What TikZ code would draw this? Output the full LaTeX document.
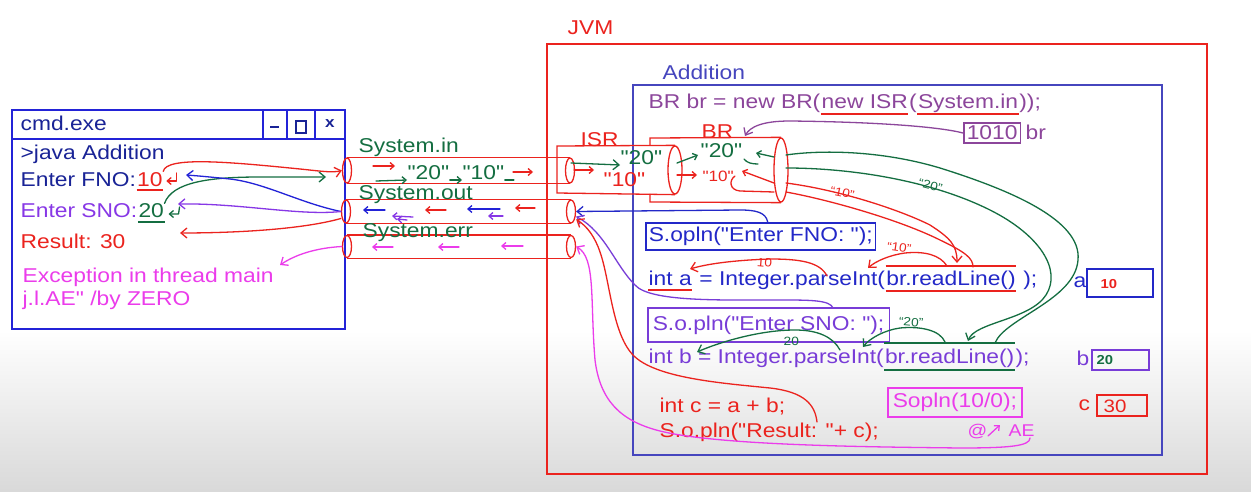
\documentclass[tikz,border=0pt]{standalone}
\usepackage{fontspec}
\setmainfont[FakeStretch=1.14,Ligatures=TeXOff]{Liberation Sans}
\usetikzlibrary{arrows.meta,shapes.geometric}
\definecolor{navy}{RGB}{25,35,150}
\definecolor{fblue}{RGB}{35,35,215}
\definecolor{jred}{RGB}{235,35,30}
\definecolor{vio}{RGB}{135,55,230}
\definecolor{dgreen}{RGB}{20,110,65}
\definecolor{mag}{RGB}{235,60,235}
\definecolor{mauve}{RGB}{140,70,155}
\definecolor{addblue}{RGB}{70,70,190}
\definecolor{codeblue}{RGB}{35,40,200}
\definecolor{codevio}{RGB}{120,60,215}
\newcommand\fs{\fontsize{20}{24}\selectfont}
\newcommand\fsm{\fontsize{12}{14}\selectfont}
\begin{document}
\begin{tikzpicture}[x=1pt,y=-1pt,line width=1.3pt,
 txt/.style={anchor=base west,inner sep=0pt,font=\fs},
 small/.style={anchor=base west,inner sep=0pt,font=\fsm},
 pend/.style={ellipse,draw=jred,line width=1.3pt,inner sep=0pt,minimum width=9pt,minimum height=#1},
 arr/.style={-{Straight Barb[length=6pt,width=10pt]}},
 arrs/.style={-{Straight Barb[length=4pt,width=7pt]}},
 hand/.style={line width=1.3pt,line cap=round,line join=round},
 codebox/.style={draw=#1,text=#1,font=\fs,line width=1.5pt,inner xsep=3pt,inner ysep=0pt,anchor=west}
]
\useasboundingbox (0,0) rectangle (1251,492);
\fill[white] (0,0) rectangle (1251,492);
\shade[top color=white,bottom color=black!15] (0,330) rectangle (1251,492);

% ---------- cmd window ----------
\draw[fblue,line width=1.6pt] (12,110) rectangle (345,329);
\draw[fblue,line width=1.6pt] (12,139) -- (345,139) (263,110) -- (263,139) (287,110) -- (287,139) (315,110) -- (315,139);
\draw[navy,line width=2pt] (270,127) -- (279,127);
\draw[navy,line width=1.8pt] (296,121) rectangle (306,133);
\node[text=navy,font=\bfseries\fontsize{15}{15}\selectfont] (closex) at (330,124) {x};
\node[txt,text=navy] (cmdt) at (20,131) {cmd.exe};
\node[txt,text=navy] (java) at (20,160) {>java Addition};
\node[txt,text=navy] (fno) at (20,186) {Enter FNO:};
\node[txt,text=jred] (n10) at (fno.base east) {10};
\draw[jred] ([yshift=-4pt]n10.base west) -- ([yshift=-4pt]n10.base east);
\draw[jred,hand,arrs] ([xshift=13pt,yshift=13pt]n10.base east) -- ([xshift=13pt,yshift=5pt]n10.base east) -- ([xshift=3pt,yshift=5pt]n10.base east);
\node[txt,text=vio] (sno) at (20,218) {Enter SNO:};
\node[txt,text=dgreen] (n20) at (sno.base east) {20};
\draw[dgreen] ([yshift=-4pt]n20.base west) -- ([yshift=-4pt]n20.base east);
\draw[dgreen,hand,arrs] ([xshift=15pt,yshift=11pt]n20.base east) -- ([xshift=14pt,yshift=4pt]n20.base east) -- ([xshift=4pt,yshift=4pt]n20.base east);
\node[txt,text=jred] (res) at (20,248) {Result: 30};
\node[txt,text=mag] (exc1) at (22,282) {Exception in thread main};
\node[txt,text=mag] (exc2) at (22,305) {j.l.AE" /by ZERO};

% ---------- streams ----------
\node[pend=25pt] (inL) at (347,170.5) {};
\node[pend=25pt] (inR) at (570,170.5) {};
\draw[jred] (inL.north) -- (inR.north) (inL.south) -- (inR.south);
\node[pend=23pt] (outL) at (346,211.5) {};
\node[pend=23pt] (outR) at (571,211.5) {};
\draw[jred] (outL.north) -- (outR.north) (outL.south) -- (outR.south);
\node[pend=22pt] (errL) at (347,246.5) {};
\node[pend=22pt] (errR) at (571,246.5) {};
\draw[jred] (errL.north) -- (errR.north) (errL.south) -- (errR.south);
\node[txt,text=dgreen] (lin) at (358,153) {System.in};
\node[txt,text=dgreen] (lout) at (358,200) {System.out};
\node[txt,text=dgreen] (lerr) at (362,237) {System.err};
% System.in contents
\node[txt,text=dgreen] (in20) at (407,180) {"20"};
\node[txt,text=dgreen] (in10) at (462,180) {"10"};
\draw[jred,hand,arrs] (373,166) -- (395,166);
\draw[dgreen,hand,arrs] (376,181) -- (in20.base west);
\draw[dgreen,hand,arrs] (in20.base east) -- (in10.base west);
\draw[dgreen,hand] (in10.base east) -- ++(9,0);
\draw[jred,hand,arrs] (513,172) -- (533,172);
% System.out contents
\draw[fblue,hand,arrs] (385,210) -- (363,210);
\draw[vio,hand,arrs] (413,217) -- (392,216);
\draw[vio,hand,arrs] (407,220) -- (397,219);
\draw[jred,hand,arrs] (446,210) -- (425,210);
\draw[fblue,hand,arrs] (500,209) -- (467,209);
\draw[vio,hand,arrs] (503,216) -- (488,216);
\draw[jred,hand,arrs] (535,208) -- (515,208);
% System.err contents
\draw[mag,hand,arrs] (393,247) -- (372,247);
\draw[mag,hand,arrs] (459,247) -- (438,247);
\draw[mag,hand,arrs] (523,246) -- (501,246);

% ---------- JVM / Addition ----------
\draw[jred,line width=1.6pt] (547,44) rectangle (1207,474);
\node[txt,text=jred] (jvm) at (567,35) {JVM};
\draw[addblue,line width=1.6pt] (633,85) rectangle (1162,455);
\node[txt,text=addblue] (addl) at (662,80) {Addition};

% ISR and BR
\node[pend=48pt,minimum width=14pt] (isrR) at (675,170) {};
\draw[jred] (isrR.north) -- (557,146) -- (557,193) -- (isrR.south);
\node[txt,text=jred] (isrl) at (580,147) {ISR};
\node[pend=64pt,minimum width=14pt] (brR) at (781,170) {};
\draw[jred] (650,146) -- (650,138) -- (brR.north) (650,194) -- (650,202) -- (brR.south);
\node[txt,text=jred] (brl) at (701,139) {BR};
\node[txt,text=dgreen] (isr20) at (620,165) {"20"};
\node[txt,text=jred] (isr10) at (603,186) {"10"};
\draw[dgreen,hand,arr] (571,163) -- (isr20.base west);
\draw[jred,hand,arrs] (574,170) -- (594,170);
\node[txt,text=dgreen] (br20) at (700,158) {"20"};
\node[txt,text=jred,font=\fontsize{15}{16}\selectfont] (br10) at (702,182) {"10"};
\draw[dgreen,hand,arrs] (677,163) -- (698,155);
\draw[jred,hand,arrs] (677,175) -- (697,175);
\draw[dgreen,hand,arrs] (774,157) -- (756,153);
\draw[dgreen,hand] (744,159) .. controls (747,163) and (752,164) .. (758,164);
\draw[jred,hand,arrs] (774,183) -- (742,171);
\draw[jred,hand] (735,176) .. controls (729,180) and (729,190) .. (740,191) -- (774,192);

% code
\node[txt,text=mauve] (brdecl) at (648,109) {BR br = new BR(};
\node[txt,text=mauve] (newisr) at (brdecl.base east) {new ISR};
\node[txt,text=mauve] (paren1) at (newisr.base east) {(};
\node[txt,text=mauve] (sysin) at (paren1.base east) {System.in};
\node[txt,text=mauve] (paren2) at (sysin.base east) {));};
\draw[jred] ([yshift=-5pt]newisr.base west) -- ([yshift=-5pt]newisr.base east);
\draw[jred] ([yshift=-5pt]sysin.base west) -- ([yshift=-5pt]sysin.base east);
\node[codebox=mauve,minimum height=20pt] (b1010) at (963,133) {1010};
\node[txt,text=mauve] (brv) at (1025,140) {br};

\node[codebox=codeblue,minimum height=27pt] (fnobox) at (645,236.5) {S.opln("Enter FNO: ");};
\node[txt,text=codeblue] (inta) at (648,285) {int a};
\node[txt,text=codeblue] (parsea) at (inta.base east) {\ = Integer.parseInt(\ };
\node[txt,text=codeblue] (rla) at (parsea.base east) {br.readLine()};
\node[txt,text=codeblue] (enda) at (rla.base east) {\ );};
\draw[jred] ([yshift=-5pt]inta.base west) -- ([yshift=-5pt]inta.base east);
\draw[jred] ([yshift=-6pt]rla.base west) -- ([yshift=-6pt]rla.base east);
\draw[jred] ([yshift=19pt]rla.base west) -- ([yshift=19pt]rla.base east);

\node[codebox=codevio,minimum height=34pt,inner xsep=5pt] (snobox) at (647,325) {S.o.pln("Enter SNO: ");};
\node[txt,text=codevio] (intb) at (648,363) {int b = Integer.parseInt(};
\node[txt,text=codevio] (rlb) at (intb.base east) {br.readLine()};
\node[txt,text=codevio] (endb) at (rlb.base east) {);};
\draw[dgreen] ([yshift=-7pt]rlb.base west) -- ([yshift=-7pt]rlb.base east);
\draw[dgreen] ([yshift=20pt]rlb.base west) -- ([yshift=20pt]rlb.base east);

\node[txt,text=jred] (intc) at (659,412) {int c = a + b;};
\node[txt,text=jred] (resl) at (659,437) {S.o.pln("Result: "+ c);};
\node[codebox=mag,minimum height=29pt,inner xsep=5pt] (sbox) at (887,402.5) {Sopln(10/0);};
\node[txt,text=mag,font=\fontsize{17}{18}\selectfont] (at) at (967,436) {@};
\node[txt,text=mag,font=\fontsize{17}{18}\selectfont] (ae) at (1008,436) {AE};
\draw[mag,hand,arrs] (at.base east) -- ++(12,-11);

% variables
\node[txt,text=codeblue] (va) at (1073,287) {a};
\node[draw=codeblue,line width=1.5pt,minimum width=66pt,minimum height=28pt,anchor=north west,inner sep=0pt] (boxa) at (1086,268) {};
\node[txt,text=jred,font=\bfseries\fontsize{13}{14}\selectfont] (vala) at (1100,288) {10};
\node[txt,text=codevio] (vb) at (1076,365) {b};
\node[draw=codevio,line width=1.5pt,minimum width=57pt,minimum height=20pt,anchor=north west,inner sep=0pt] (boxb) at (1091,349) {};
\node[txt,text=dgreen,font=\bfseries\fontsize{13}{14}\selectfont] (valb) at (1096,364) {20};
\node[txt,text=jred] (vc) at (1078,410) {c};
\node[draw=jred,line width=1.5pt,minimum width=50pt,minimum height=21pt,anchor=north west,inner sep=0pt] (boxc) at (1096,394) {};
\node[txt,text=jred,font=\fontsize{18}{20}\selectfont] (valc) at (1103,412) {30};

% ---------- connectors, left ----------
\coordinate (g2end) at (326,177);
\coordinate (fnotip) at (186,175);
\coordinate (snotip) at (178,204);
\coordinate (restip) at (180,233);
\coordinate (exctip) at (280,265);
\draw[jred,hand,arr] (n10.north east) .. controls (166,156) and (230,162) .. (300,169) .. controls (320,171) and (332,173) .. (inL.west);
\draw[dgreen,hand,arr] (n20.north east) .. controls (172,182) and (210,177) .. (260,177) -- (g2end);
\draw[fblue,hand,arr] (outL.west) .. controls (300,203) and (265,183) .. (230,179) .. controls (210,177) and (200,176) .. (fnotip);
\draw[vio,hand,arr] (outL.west) .. controls (300,216) and (240,203) .. (snotip);
\draw[jred,hand,arr] ([yshift=-7pt]outL.west) .. controls (300,230) and (230,233) .. (restip);
\draw[mag,hand,arr] (errL.west) .. controls (315,248) and (295,255) .. (exctip);

% ---------- connectors, right ----------
\coordinate (brtip) at (745,136);
\draw[mauve,hand,arr] (b1010.west) .. controls (940,127) and (880,122) .. (790,121) .. controls (762,121) and (750,127) .. (brtip);
\draw[codeblue,hand,arr] ([xshift=7pt]fnobox.north) .. controls (766,212) and (755,210) .. (740,210) -- (outR.east);
\coordinate (snostart) at (833,308);
\draw[codevio,hand,arr] (snostart) .. controls (830,300) and (810,300) .. (780,300) .. controls (720,300) and (650,302) .. (635,285) .. controls (615,265) and (605,232) .. ([yshift=-5pt]outR.east);
\coordinate (resq) at (817,422);
\draw[jred,hand,arr] (resq) .. controls (815,405) and (805,392) .. (770,388) .. controls (720,383) and (655,378) .. (633,355) .. controls (612,333) and (610,280) .. (600,252) .. controls (595,237) and (587,226) .. ([yshift=-8pt]outR.east);
\coordinate (aeq) at (1030,438);
\draw[mag,hand,arr] (aeq) .. controls (1030,446) and (1010,448) .. (960,448) .. controls (880,447) and (720,446) .. (660,431) .. controls (620,421) and (600,400) .. (595,360) .. controls (590,300) and (596,258) .. (errR.east);
% green from BR to second readLine
\coordinate (ga) at (786,155);
\coordinate (gb) at (786,168);
\coordinate (gaend) at (995,343);
\coordinate (gbend) at (968,341);
\draw[dgreen,hand] (ga) .. controls (820,150) and (880,150) .. (940,168) .. controls (1010,190) and (1082,220) .. (1078,260) .. controls (1075,300) and (1005,318) .. (gaend);
\draw[dgreen,hand,arr] (gb) .. controls (850,168) and (930,180) .. (990,210) .. controls (1040,235) and (1062,270) .. (1046,295) .. controls (1030,320) and (975,322) .. (gbend);
% red from BR to first readLine
\coordinate (rc) at (786,183);
\coordinate (rd) at (786,192);
\coordinate (rcend) at (957,263);
\coordinate (rdend) at (973,267);
\draw[jred,hand,arr] (rc) .. controls (840,190) and (900,210) .. (930,225) .. controls (950,238) and (957,245) .. (rcend);
\draw[jred,hand] (rd) .. controls (830,200) and (900,220) .. (940,240) .. controls (965,252) and (973,258) .. (rdend);
% readLine results to variables
\coordinate (ra1) at (947,266);
\coordinate (ra1tip) at (868,268);
\coordinate (ra2) at (827,276);
\coordinate (ra2tip) at (690,269);
\draw[jred,hand,arr] (ra1) .. controls (940,255) and (925,251) .. (905,253) .. controls (890,255) and (876,261) .. (ra1tip);
\draw[jred,hand,arr] (ra2) .. controls (820,262) and (800,259) .. (770,259) .. controls (740,260) and (710,263) .. (ra2tip);
\coordinate (gb1) at (945,342);
\coordinate (gb1tip) at (863,347);
\coordinate (gb2) at (840,350);
\coordinate (gb2tip) at (697,352);
\draw[dgreen,hand,arr] (gb1) .. controls (940,330) and (920,326) .. (900,328) .. controls (885,330) and (870,338) .. (gb1tip);
\draw[dgreen,hand,arr] (gb2) .. controls (833,337) and (818,330) .. (795,330) .. controls (760,330) and (720,342) .. (gb2tip);

% handwritten labels
\node[small,text=jred,rotate=-5] (l10a) at (756,266) {10};
\node[small,text=dgreen] (l20a) at (783,345) {20};
\node[small,text=jred,rotate=-12] (l10b) at (829,194) {“10”};
\node[small,text=jred,rotate=-8] (l10c) at (886,250) {“10”};
\node[small,text=dgreen,rotate=-15] (l20b) at (917,186) {“20”};
\node[small,text=dgreen,rotate=-5] (l20c) at (898,325) {“20”};
\end{tikzpicture}
\end{document}
